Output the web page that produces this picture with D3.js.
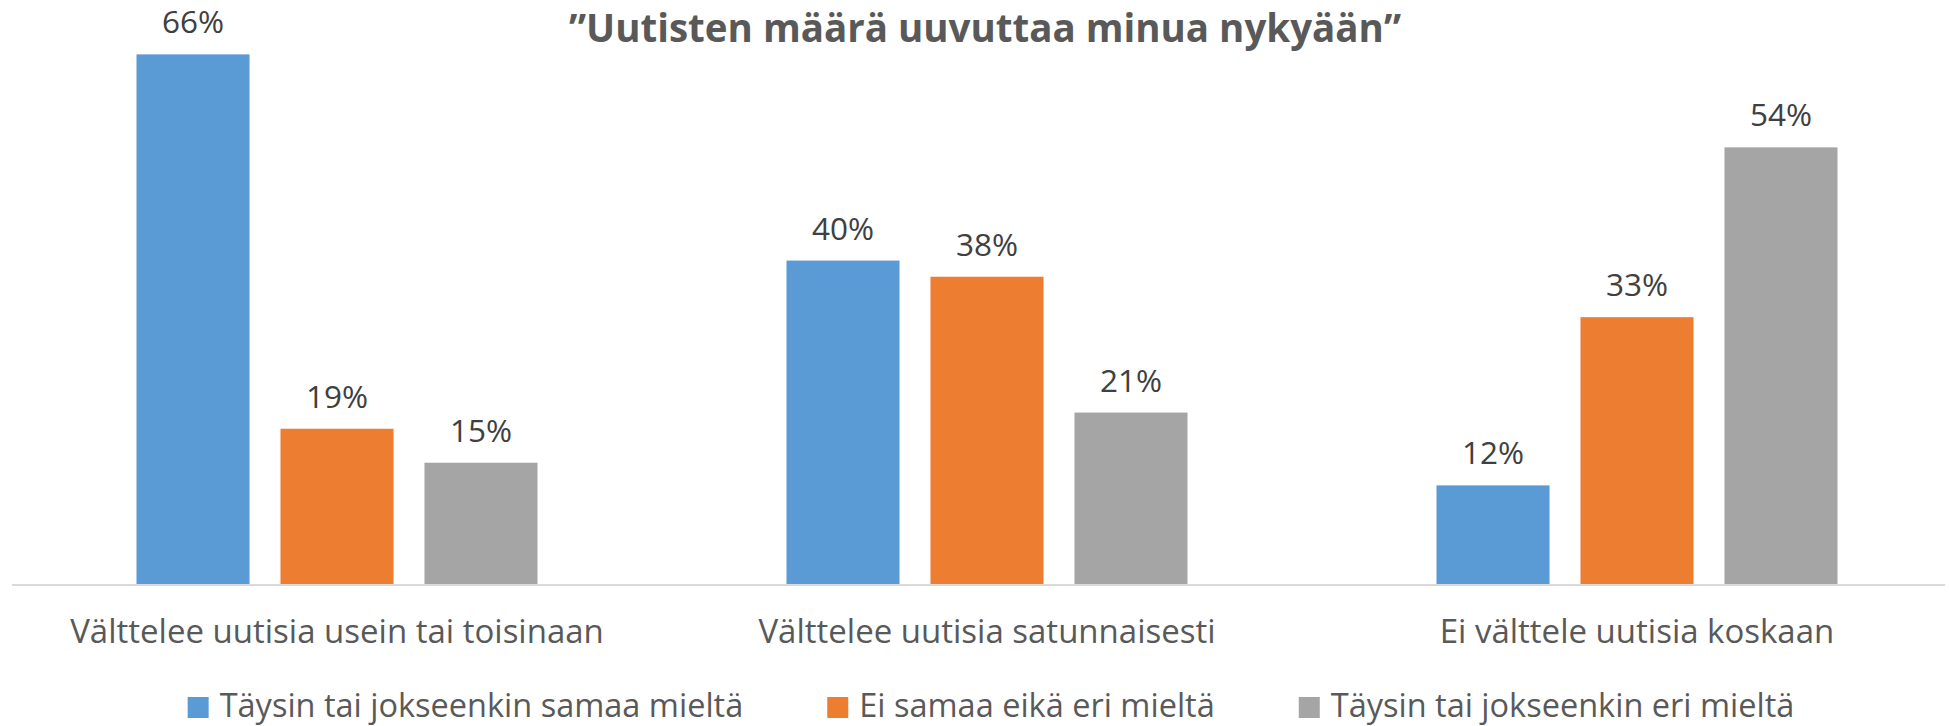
<!DOCTYPE html>
<html>
<head>
<meta charset="utf-8">
<script src="https://cdn.jsdelivr.net/npm/d3@7"></script>
<style>
	body { margin: 0; background: #fff; }
	text { font-family: "Open Sans", sans-serif; }
</style>
</head>
<body>
<svg id="chart"></svg>
<script>
var categories = ["Välttelee uutisia usein tai toisinaan", "Välttelee uutisia satunnaisesti", "Ei välttele uutisia koskaan"];
var series = ["Täysin tai jokseenkin samaa mieltä", "Ei samaa eikä eri mieltä", "Täysin tai jokseenkin eri mieltä"];
var samaa = [65.5, 40, 12.2];
var eiSamaaEiEri = [19.2, 38, 33];
var eri = [15, 21.2, 54];
var colors = ["#5b9bd5", "#ed7d31", "#a5a5a5"];
var title = "\u201dUutisten määrä uuvuttaa minua nykyään\u201d";

var width = 1949, height = 726;
var margin = { "top": 18, "right": 0, "bottom": 142, "left": 12 };
var baseY = height - margin.bottom;

var svg = d3.select("#chart")
	.attr("width", width)
	.attr("height", height);

var table = categories.map(function(c, i) {
	return { cat: c, values: [samaa[i], eiSamaaEiEri[i], eri[i]] };
});

var x0 = d3.scaleBand()
	.domain(categories)
	.range([margin.left, margin.left + 1950]);
var bw = x0.bandwidth();
var x1 = d3.scaleBand()
	.domain(d3.range(series.length))
	.range([(bw - 401) / 2, (bw + 401) / 2])
	.paddingInner(0.215);
var y = d3.scaleLinear()
	.domain([0, 70])
	.range([baseY, margin.top]);

// title
svg.append("text")
	.attr("x", 985)
	.attr("y", 42)
	.attr("text-anchor", "middle")
	.attr("font-size", 38.5)
	.attr("font-weight", "bold")
	.attr("fill", "#595959")
	.text(title);

var groups = svg.selectAll("g.group")
	.data(table)
	.enter()
	.append("g")
	.attr("class", "group")
	.attr("transform", function(d) { return "translate(" + x0(d.cat) + ",0)"; });

groups.selectAll("rect")
	.data(function(d) { return d.values; })
	.enter()
	.append("rect")
	.attr("x", function(d, i) { return x1(i); })
	.attr("y", function(d) { return y(d); })
	.attr("width", x1.bandwidth())
	.attr("height", function(d) { return baseY - y(d); })
	.attr("fill", function(d, i) { return colors[i]; });

groups.selectAll("text.lbl")
	.data(function(d) { return d.values; })
	.enter()
	.append("text")
	.attr("class", "lbl")
	.attr("x", function(d, i) { return x1(i) + x1.bandwidth() / 2; })
	.attr("y", function(d) { return y(d) - 21; })
	.attr("text-anchor", "middle")
	.attr("font-size", 31.5)
	.attr("fill", "#404040")
	.text(function(d) { return d3.format(".0f")(d) + "%"; });

// category axis
var xAxis = svg.append("g")
	.attr("transform", "translate(0," + baseY + ")")
	.call(d3.axisBottom(x0).tickSize(0).tickPadding(59));
xAxis.select(".domain").remove();
xAxis.selectAll("text")
	.attr("font-family", "Open Sans, sans-serif")
	.attr("font-size", 33)
	.attr("fill", "#595959")
	.attr("dy", 0);
svg.append("line")
	.attr("x1", margin.left)
	.attr("x2", 1945)
	.attr("y1", baseY + 1)
	.attr("y2", baseY + 1)
	.attr("stroke", "#d9d9d9")
	.attr("stroke-width", 2);

// legend
var legend = svg.append("g");
var items = legend.selectAll("g")
	.data(series)
	.enter()
	.append("g");
items.append("rect")
	.attr("width", 21)
	.attr("height", 21)
	.attr("y", -20)
	.attr("fill", function(d, i) { return colors[i]; });
items.append("text")
	.attr("x", 32)
	.attr("font-size", 32.5)
	.attr("fill", "#595959")
	.text(function(d) { return d; });
var offset = 0;
items.each(function() {
	var g = d3.select(this);
	g.attr("transform", "translate(" + offset + ",0)");
	offset += 32 + g.select("text").node().getComputedTextLength() + 84;
});
var total = offset - 84;
legend.attr("transform", "translate(" + (991 - total / 2) + ",717)");
</script>
</body>
</html>
